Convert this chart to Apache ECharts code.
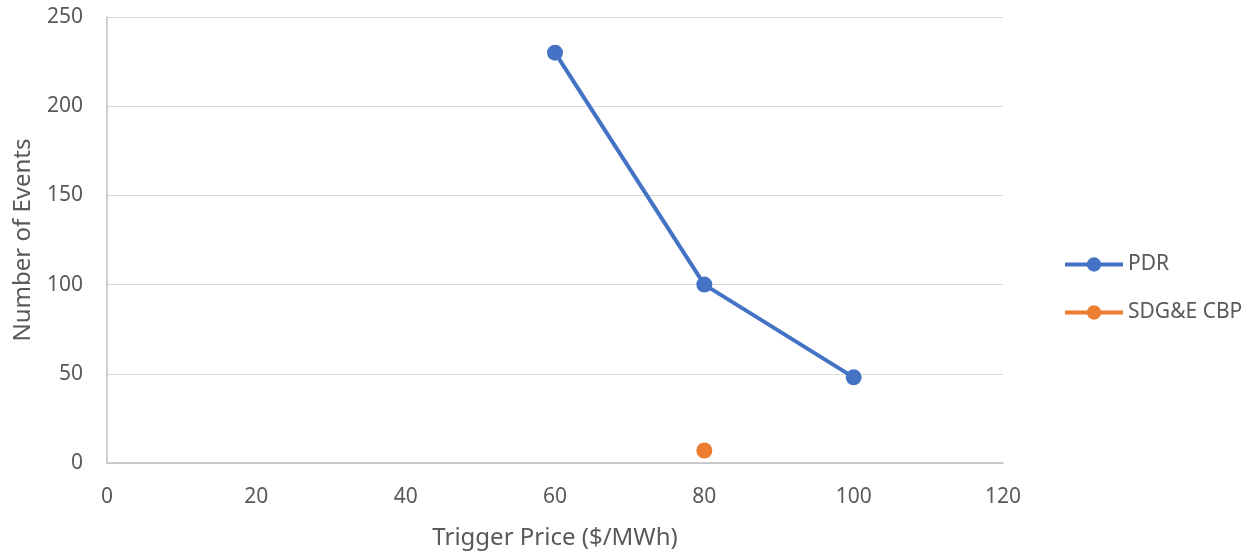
<!DOCTYPE html>
<html>
<head>
<meta charset="utf-8">
<script src="https://cdn.jsdelivr.net/npm/echarts@6/dist/echarts.min.js"></script>
<style>
  html, body { margin: 0; padding: 0; background: #fff; }
  #chart { width: 1251px; height: 552px; }
</style>
</head>
<body>
<div id="chart"></div>
<script>
// Trigger price ($/MWh) vs. number of dispatch events
const pdrPrices = [60, 80, 100];
const pdrEvents = [230, 100, 48];
const cbpPrices = [80];
const cbpEvents = [7];

const xTicks = { min: 0, max: 120, interval: 20 };
const yTicks = { min: 0, max: 250, interval: 50 };

const font = 'Noto Sans';
const chart = echarts.init(document.getElementById('chart'));

chart.setOption({
  animation: false,
  textStyle: { fontFamily: font },
  grid: { left: 107, right: 248, top: 17, bottom: 89, outerBoundsMode: 'none' },
  xAxis: {
    type: 'value',
    min: xTicks.min, max: xTicks.max, interval: xTicks.interval,
    name: 'Trigger Price ($/MWh)',
    nameLocation: 'middle',
    nameGap: 63,
    nameTextStyle: { color: '#595959', fontSize: 24, fontFamily: font },
    axisLine: { show: true, lineStyle: { color: '#bfbfbf', width: 1.5 } },
    axisTick: { show: false },
    splitLine: { show: false },
    axisLabel: { color: '#595959', fontSize: 21, margin: 24, fontFamily: font }
  },
  yAxis: {
    type: 'value',
    min: yTicks.min, max: yTicks.max, interval: yTicks.interval,
    name: 'Number of Events',
    nameLocation: 'middle',
    nameGap: 72,
    nameRotate: 90,
    nameTextStyle: { color: '#595959', fontSize: 24, fontFamily: font },
    axisLine: { show: true, lineStyle: { color: '#bfbfbf', width: 1.5 } },
    axisTick: { show: false },
    splitLine: { show: true, lineStyle: { color: '#d9d9d9', width: 1.2 } },
    axisLabel: { color: '#595959', fontSize: 21, margin: 24, fontFamily: font }
  },
  legend: {
    orient: 'vertical',
    left: 1058,
    top: 249,
    itemWidth: 58,
    itemHeight: 18,
    itemGap: 27,
    lineStyle: { width: 4 },
    textStyle: { color: '#595959', fontSize: 21, fontFamily: font },
    data: ['PDR', 'SDG&E CBP']
  },
  series: [
    {
      name: 'PDR',
      type: 'line',
      data: pdrPrices.map((p, i) => [p, pdrEvents[i]]),
      symbol: 'circle',
      symbolSize: 16,
      lineStyle: { color: '#4472c4', width: 4 },
      itemStyle: { color: '#4472c4' }
    },
    {
      name: 'SDG&E CBP',
      type: 'line',
      data: cbpPrices.map((p, i) => [p, cbpEvents[i]]),
      symbol: 'circle',
      symbolSize: 16,
      showSymbol: true,
      lineStyle: { color: '#ed7d31', width: 4 },
      itemStyle: { color: '#ed7d31' }
    }
  ]
});
</script>
</body>
</html>
